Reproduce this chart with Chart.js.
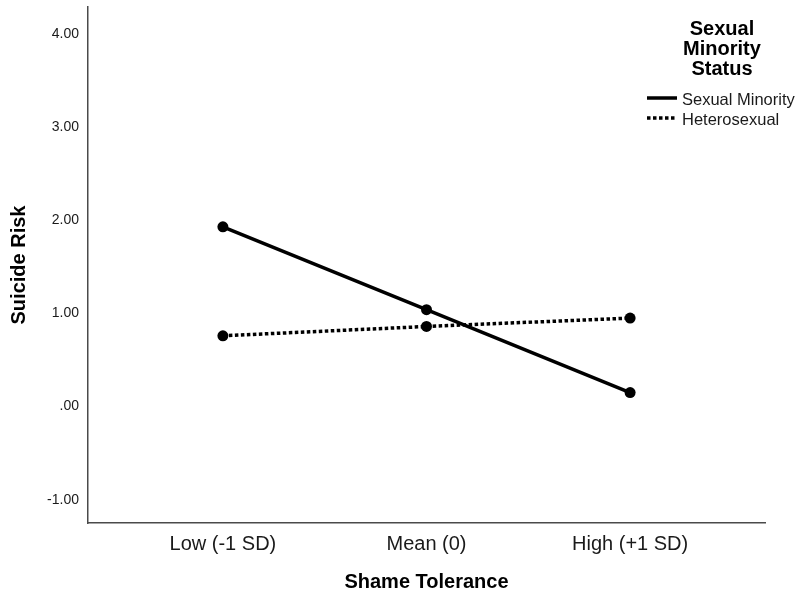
<!DOCTYPE html>
<html>
<head>
<meta charset="utf-8">
<title>Suicide Risk by Shame Tolerance</title>
<script src="https://cdn.jsdelivr.net/npm/chart.js@4/dist/chart.umd.min.js"></script>
<style>
  html, body { margin: 0; padding: 0; background: #ffffff; }
  #wrap { width: 800px; height: 598px; }
</style>
</head>
<body>
<div id="wrap"><canvas id="chart" width="800" height="598"></canvas></div>
<script>
// Simple slopes: suicide risk at three levels of shame tolerance
const categories = ['Low (-1 SD)', 'Mean (0)', 'High (+1 SD)'];
const sexualMinority = [1.93, 1.04, 0.15];
const heterosexual = [0.76, 0.86, 0.95];
const seriesLabels = ['Sexual Minority', 'Heterosexual'];
const legendTitle = ['Sexual', 'Minority', 'Status'];
const yTicks = [-1, 0, 1, 2, 3, 4];
const yTickLabels = ['-1.00', '.00', '1.00', '2.00', '3.00', '4.00'];

const FONT = '"Liberation Sans", Arial, Helvetica, sans-serif';
const INK = '#000000';
const AXIS = '#4a4a4a';

const toPoints = vals => vals.map((v, i) => ({ x: i, y: v }));

// Legend drawn at the upper right, over the plot area
const sideLegend = {
  id: 'sideLegend',
  afterDraw(chart) {
    const ctx = chart.ctx;
    ctx.save();
    ctx.fillStyle = INK;
    ctx.textAlign = 'center';
    ctx.textBaseline = 'middle';
    ctx.font = 'bold 20px ' + FONT;
    legendTitle.forEach((t, i) => ctx.fillText(t, 722, 29 + i * 20));

    const rows = [98, 118];
    chart.data.datasets.forEach((ds, i) => {
      const y = rows[i];
      ctx.beginPath();
      ctx.strokeStyle = ds.borderColor;
      ctx.lineWidth = 3.5;
      ctx.lineCap = 'butt';
      ctx.setLineDash(ds.borderDash || []);
      ctx.moveTo(647, y);
      ctx.lineTo(677, y);
      ctx.stroke();
      ctx.setLineDash([]);
      ctx.fillStyle = '#1a1a1a';
      ctx.textAlign = 'left';
      ctx.font = '16.5px ' + FONT;
      ctx.fillText(ds.label, 682, y + 2);
    });
    ctx.restore();
  }
};

new Chart(document.getElementById('chart'), {
  type: 'line',
  data: {
    datasets: [
      {
        label: seriesLabels[0],
        data: toPoints(sexualMinority),
        borderColor: INK,
        backgroundColor: INK,
        borderWidth: 3.5,
        pointRadius: 5.5,
        pointBorderWidth: 0,
        pointBackgroundColor: INK,
        tension: 0,
        fill: false
      },
      {
        label: seriesLabels[1],
        data: toPoints(heterosexual),
        borderColor: INK,
        backgroundColor: INK,
        borderWidth: 3.5,
        borderDash: [3.5, 2.5],
        borderCapStyle: 'butt',
        pointRadius: 5.5,
        pointBorderWidth: 0,
        pointBackgroundColor: INK,
        tension: 0,
        fill: false
      }
    ]
  },
  options: {
    responsive: false,
    animation: false,
    events: [],
    layout: { padding: { top: 7, right: 35, left: 0, bottom: 0 } },
    plugins: {
      legend: { display: false },
      tooltip: { enabled: false }
    },
    scales: {
      x: {
        type: 'linear',
        min: -0.6625,
        max: 2.6625,
        grid: { display: false, drawTicks: false },
        border: { display: true, color: AXIS, width: 1.5 },
        afterBuildTicks: s => { s.ticks = categories.map((c, i) => ({ value: i })); },
        afterFit: s => { s.height = 75; s.paddingLeft = 0; s.paddingRight = 0; },
        ticks: {
          padding: 9,
          color: '#1a1a1a',
          font: { family: FONT, size: 20 },
          maxRotation: 0,
          autoSkip: false,
          callback: v => categories[v]
        },
        title: {
          display: true,
          text: 'Shame Tolerance',
          color: INK,
          font: { family: FONT, size: 20, weight: 'bold' },
          padding: { top: 0, bottom: 4 }
        }
      },
      y: {
        type: 'linear',
        min: -1.25,
        max: 4.29,
        grid: { display: false, drawTicks: false },
        border: { display: true, color: AXIS, width: 1.5 },
        afterBuildTicks: s => { s.ticks = yTicks.map(v => ({ value: v })); },
        afterFit: s => { s.width = 88; s.paddingTop = 0; s.paddingBottom = 0; },
        ticks: {
          padding: 9,
          color: '#1a1a1a',
          font: { family: FONT, size: 14 },
          callback: v => yTickLabels[yTicks.indexOf(v)]
        },
        title: {
          display: true,
          text: 'Suicide Risk',
          color: INK,
          font: { family: FONT, size: 20, weight: 'bold' },
          padding: { top: 7, bottom: 0 }
        }
      }
    }
  },
  plugins: [sideLegend]
});
</script>
</body>
</html>
